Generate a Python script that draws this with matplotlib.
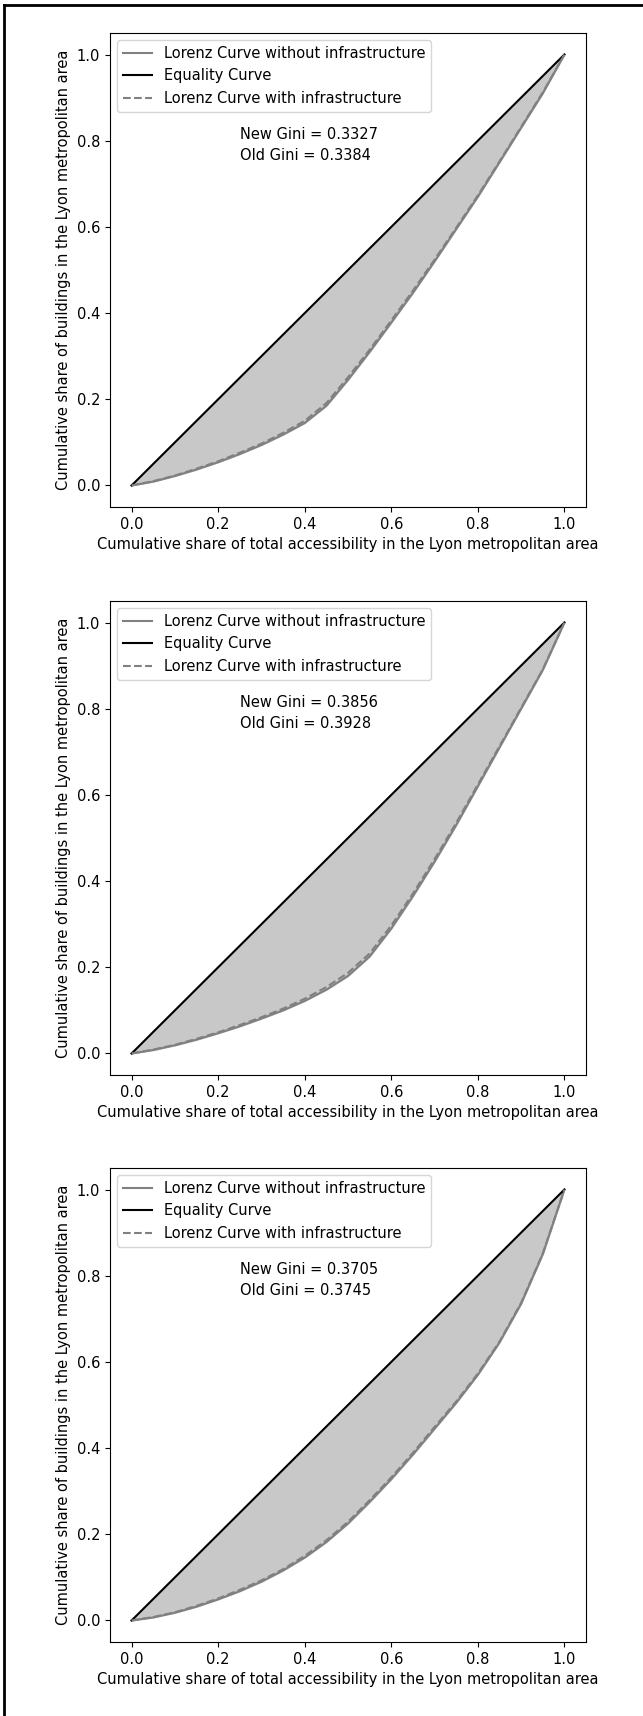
import numpy as np
import matplotlib
matplotlib.use("Agg")
import matplotlib.pyplot as plt
from matplotlib.lines import Line2D

plt.rcParams["font.size"] = 10.5

# cumulative share of accessibility (x) for all curves
x_share = [0.0, 0.05, 0.1, 0.15, 0.2, 0.25, 0.3, 0.35, 0.4, 0.45, 0.5,
           0.55, 0.6, 0.65, 0.7, 0.75, 0.8, 0.85, 0.9, 0.95, 1.0]

# lorenz curves (without / with infrastructure)
lorenz_old_1 = [0.0, 0.009, 0.022, 0.037, 0.054, 0.073, 0.094, 0.118, 0.145, 0.185, 0.245,
                0.31, 0.378, 0.447, 0.52, 0.595, 0.67, 0.75, 0.83, 0.91, 1.0]
lorenz_new_1 = [0.0, 0.01, 0.023, 0.039, 0.056, 0.076, 0.097, 0.122, 0.15, 0.191, 0.251,
                0.315, 0.383, 0.452, 0.524, 0.598, 0.673, 0.752, 0.832, 0.912, 1.0]

lorenz_old_2 = [0.0, 0.008, 0.019, 0.032, 0.047, 0.063, 0.081, 0.1, 0.122, 0.148, 0.18,
                0.225, 0.29, 0.365, 0.445, 0.53, 0.62, 0.71, 0.8, 0.89, 1.0]
lorenz_new_2 = [0.0, 0.009, 0.02, 0.034, 0.049, 0.066, 0.084, 0.104, 0.127, 0.154, 0.187,
                0.232, 0.297, 0.371, 0.451, 0.535, 0.624, 0.713, 0.802, 0.891, 1.0]

lorenz_old_3 = [0.0, 0.007, 0.018, 0.032, 0.049, 0.068, 0.09, 0.116, 0.146, 0.182, 0.225,
                0.275, 0.328, 0.385, 0.445, 0.505, 0.57, 0.645, 0.735, 0.85, 1.0]
lorenz_new_3 = [0.0, 0.008, 0.019, 0.034, 0.051, 0.071, 0.093, 0.119, 0.15, 0.186, 0.229,
                0.279, 0.332, 0.389, 0.449, 0.508, 0.573, 0.647, 0.737, 0.851, 1.0]

gini_new = [0.3327, 0.3856, 0.3705]
gini_old = [0.3384, 0.3928, 0.3745]

olds = [lorenz_old_1, lorenz_old_2, lorenz_old_3]
news = [lorenz_new_1, lorenz_new_2, lorenz_new_3]

fig = plt.figure(figsize=(6.43, 17.16), dpi=100)

W, H = 643, 1716
ax_left, ax_right = 110, 586
ax_h = 474
tops = [33, 601, 1168]

x = np.array(x_share)
for i in range(3):
    bottom = 1 - (tops[i] + ax_h) / H
    ax = fig.add_axes([ax_left / W, bottom, (ax_right - ax_left) / W, ax_h / H])
    old = np.array(olds[i])
    new = np.array(news[i])
    ax.plot(x, old, color="grey", label="Lorenz Curve without infrastructure")
    ax.plot(x, x, color="black", label="Equality Curve")
    ax.plot(x, new, color="grey", linestyle="--", label="Lorenz Curve with infrastructure")
    ax.fill_between(x, old, x, color="#c8c8c8")
    ax.text(0.25, 0.79, f"New Gini = {gini_new[i]}\nOld Gini = {gini_old[i]}",
            va="center", linespacing=1.5)
    ax.set_xticks([0, 0.2, 0.4, 0.6, 0.8, 1.0])
    ax.set_yticks([0, 0.2, 0.4, 0.6, 0.8, 1.0])
    ax.set_xlabel("Cumulative share of total accessibility in the Lyon metropolitan area")
    ax.set_ylabel("Cumulative share of buildings in the Lyon metropolitan area")
    ax.legend(loc="upper left")

# frame of the screenshot (left and top only)
fig.add_artist(Line2D([0.006, 0.006], [0, 0.997], transform=fig.transFigure,
                      color="black", linewidth=2))
fig.add_artist(Line2D([0.006, 1.0], [0.997, 0.997], transform=fig.transFigure,
                      color="black", linewidth=2))

fig.savefig("out.png", dpi=100)
